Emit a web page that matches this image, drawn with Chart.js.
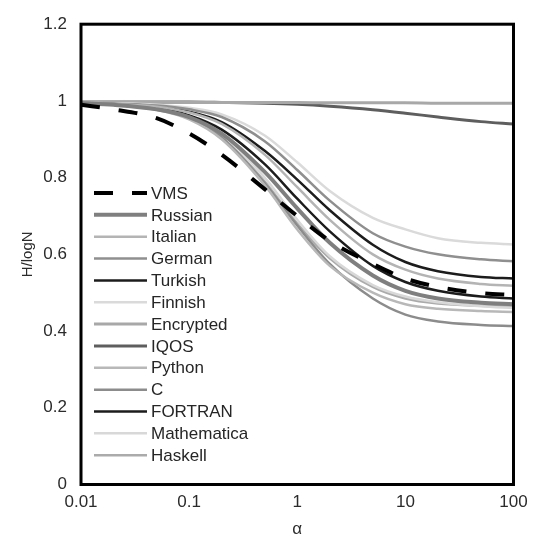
<!DOCTYPE html>
<html>
<head>
<meta charset="utf-8">
<script src="https://cdn.jsdelivr.net/npm/chart.js@4.4.1/dist/chart.umd.min.js"></script>
<style>
  html, body { margin: 0; padding: 0; background: #fff; }
  canvas { display: block; }
</style>
</head>
<body>
<canvas id="entropyChart" width="538" height="542"></canvas>
<script>
// alpha values (x) shared by all series
const alphaValues = [0.01, 0.02, 0.05, 0.1, 0.2, 0.5, 1, 2, 5, 10, 20, 50, 100];

// H/logN, one array per text
const vms         = [0.990, 0.978, 0.955, 0.915, 0.860, 0.770, 0.700, 0.635, 0.575, 0.537, 0.515, 0.499, 0.494];
const russian     = [0.994, 0.990, 0.978, 0.958, 0.915, 0.815, 0.720, 0.630, 0.545, 0.505, 0.485, 0.474, 0.470];
const italian     = [0.995, 0.992, 0.985, 0.970, 0.940, 0.860, 0.775, 0.690, 0.600, 0.560, 0.537, 0.523, 0.518];
const german      = [0.995, 0.993, 0.988, 0.978, 0.958, 0.895, 0.820, 0.740, 0.655, 0.620, 0.600, 0.587, 0.582];
const turkish     = [0.995, 0.992, 0.985, 0.972, 0.945, 0.870, 0.795, 0.715, 0.625, 0.580, 0.556, 0.541, 0.537];
const finnish     = [0.995, 0.994, 0.990, 0.982, 0.965, 0.910, 0.840, 0.765, 0.695, 0.665, 0.642, 0.630, 0.626];
const encrypted   = [0.996, 0.996, 0.996, 0.996, 0.996, 0.996, 0.996, 0.995, 0.995, 0.995, 0.994, 0.994, 0.994];
const iqos        = [0.997, 0.997, 0.997, 0.997, 0.996, 0.994, 0.991, 0.986, 0.977, 0.968, 0.958, 0.946, 0.940];
const python      = [0.994, 0.990, 0.977, 0.952, 0.900, 0.780, 0.665, 0.570, 0.500, 0.470, 0.458, 0.452, 0.450];
const cLang       = [0.994, 0.990, 0.978, 0.955, 0.905, 0.785, 0.675, 0.575, 0.485, 0.443, 0.425, 0.416, 0.413];
const fortran     = [0.994, 0.990, 0.980, 0.962, 0.925, 0.835, 0.745, 0.660, 0.570, 0.528, 0.505, 0.490, 0.485];
const mathematica = [0.995, 0.990, 0.980, 0.960, 0.915, 0.800, 0.690, 0.595, 0.520, 0.490, 0.475, 0.465, 0.460];
const haskell     = [0.994, 0.990, 0.978, 0.955, 0.905, 0.790, 0.680, 0.590, 0.515, 0.485, 0.472, 0.466, 0.464];

const xTicks = [0.01, 0.1, 1, 10, 100];
const xTickLabels = ['0.01', '0.1', '1', '10', '100'];
const yTickLabels = ['0', '0.2', '0.4', '0.6', '0.8', '1', '1.2'];

const FONT = "'Liberation Sans', Arial, sans-serif";

const toPoints = (vals) => vals.map((v, i) => ({ x: alphaValues[i], y: v }));

function makeSet(label, vals, color, width, dash) {
    return {
        label: label,
        data: toPoints(vals),
        borderColor: color,
        borderWidth: width,
        borderDash: dash || [],
        pointRadius: 0,
        fill: false,
        cubicInterpolationMode: 'monotone'
    };
}

// first one is drawn on top
const datasets = [
    makeSet('VMS', vms, '#000000', 4, [19, 19]),
    makeSet('Russian', russian, '#7f7f7f', 4),
    makeSet('Italian', italian, '#b4b4b4', 2.5),
    makeSet('German', german, '#8f8f8f', 2.5),
    makeSet('Turkish', turkish, '#1c1c1c', 2.5),
    makeSet('Finnish', finnish, '#dadada', 2.5),
    makeSet('Encrypted', encrypted, '#a8a8a8', 3),
    makeSet('IQOS', iqos, '#5e5e5e', 3),
    makeSet('Python', python, '#b8b8b8', 2.5),
    makeSet('C', cLang, '#8c8c8c', 2.5),
    makeSet('FORTRAN', fortran, '#1c1c1c', 2.5),
    makeSet('Mathematica', mathematica, '#d8d8d8', 2.5),
    makeSet('Haskell', haskell, '#ababab', 2.5)
];

// box around the plot + legend inside the plot
const boxAndLegend = {
    id: 'boxAndLegend',
    afterDatasetsDraw(chart) {
        const ctx = chart.ctx;
        const a = chart.chartArea;
        ctx.save();
        ctx.strokeStyle = '#000';
        ctx.lineWidth = 3;
        ctx.strokeRect(a.left, a.top, a.right - a.left, a.bottom - a.top);

        ctx.font = '17px ' + FONT;
        ctx.textBaseline = 'middle';
        ctx.textAlign = 'left';
        chart.data.datasets.forEach((ds, i) => {
            const y = 193 + i * 21.85;
            ctx.beginPath();
            ctx.strokeStyle = ds.borderColor;
            ctx.lineWidth = ds.borderWidth;
            ctx.setLineDash(ds.borderDash);
            ctx.moveTo(94, y);
            ctx.lineTo(147, y);
            ctx.stroke();
            ctx.setLineDash([]);
            ctx.fillStyle = '#262626';
            ctx.fillText(ds.label, 151, y + 1);
        });
        ctx.restore();
    }
};

new Chart(document.getElementById('entropyChart'), {
    type: 'line',
    data: { datasets: datasets },
    options: {
        responsive: false,
        animation: false,
        layout: { padding: { top: 15, right: 24.5, left: 0, bottom: 0 } },
        plugins: {
            legend: { display: false },
            tooltip: { enabled: false }
        },
        scales: {
            x: {
                type: 'logarithmic',
                min: 0.01,
                max: 100,
                afterBuildTicks: (s) => { s.ticks = xTicks.map(v => ({ value: v })); },
                afterFit: (s) => { s.height = 57.5; },
                grid: { display: false, drawTicks: false },
                border: { display: false },
                ticks: {
                    padding: 8,
                    color: '#2b2b2b',
                    font: { family: FONT, size: 17 },
                    maxRotation: 0,
                    callback: (v, i) => xTickLabels[i]
                },
                title: {
                    display: true,
                    text: 'α',
                    color: '#2b2b2b',
                    font: { family: FONT, size: 17 },
                    padding: { top: 0, bottom: 2 }
                }
            },
            y: {
                min: 0,
                max: 1.2,
                afterFit: (s) => { s.width = 81; },
                grid: { display: false, drawTicks: false },
                border: { display: false },
                ticks: {
                    stepSize: 0.2,
                    padding: 14,
                    color: '#2b2b2b',
                    font: { family: FONT, size: 17 },
                    callback: (v, i) => yTickLabels[i]
                },
                title: {
                    display: true,
                    text: 'H/logN',
                    color: '#2b2b2b',
                    font: { family: FONT, size: 15 },
                    padding: { top: 19, bottom: 0 }
                }
            }
        }
    },
    plugins: [boxAndLegend]
});
</script>
</body>
</html>
